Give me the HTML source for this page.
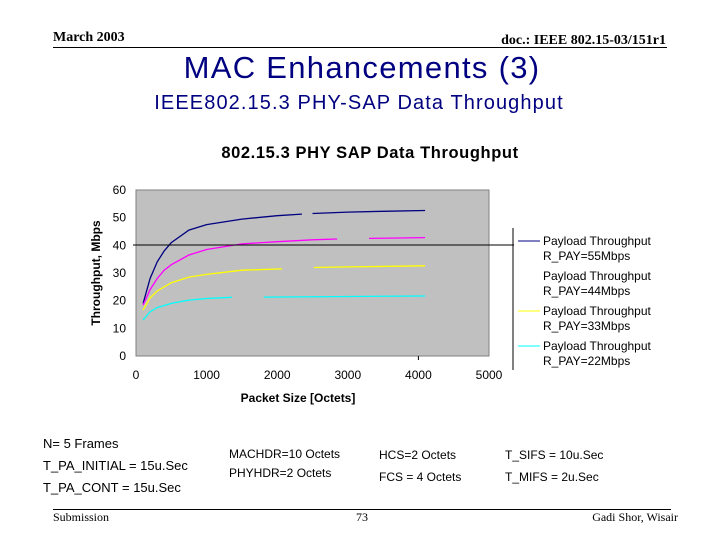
<!DOCTYPE html>
<html><head><meta charset="utf-8"><style>
body{margin:0;width:720px;height:540px;background:#fff;overflow:hidden;position:relative;font-family:"Liberation Sans",sans-serif}
.a{position:absolute;white-space:nowrap}
.ser{font-family:"Liberation Serif",serif}
</style></head><body>
<div class="a ser" style="left:53px;top:30px;font-size:14px;font-weight:bold">March 2003</div>
<div class="a ser" style="right:54px;top:33px;font-size:14px;font-weight:bold">doc.: IEEE 802.15-03/151r1</div>
<div class="a" style="left:53px;top:47px;width:614px;height:1px;background:#000"></div>
<div class="a" style="left:0;width:724px;text-align:center;top:50px;font-size:31px;letter-spacing:1.3px;color:#000080">MAC Enhancements (3)</div>
<div class="a" style="left:0;width:718px;text-align:center;top:92px;font-size:20px;letter-spacing:1.1px;color:#000080">IEEE802.15.3 PHY-SAP Data Throughput</div>
<svg class="a" style="left:0;top:0" width="720" height="540">
<text x="370" y="158" text-anchor="middle" font-size="16.5" font-weight="bold" letter-spacing="0.6" font-family="Liberation Sans">802.15.3 PHY SAP Data Throughput</text>
<rect x="136" y="190" width="353" height="166" fill="#c0c0c0" stroke="#808080"/>
<g id="axes" font-family="Liberation Sans" font-size="12"></g>
<g id="series"></g>
<line x1="133" y1="245" x2="514" y2="245" stroke="#000"/>
<line x1="513" y1="228" x2="513" y2="370" stroke="#000"/>
<text x="298" y="402" text-anchor="middle" font-size="12" font-weight="bold" font-family="Liberation Sans">Packet Size [Octets]</text>
<text transform="translate(100,273) rotate(-90)" text-anchor="middle" font-size="12" font-weight="bold" font-family="Liberation Sans">Throughput, Mbps</text>
<g id="legend" font-family="Liberation Sans" font-size="12"></g>
</svg>
<div class="a" style="left:43px;top:433px;font-size:13px;line-height:22px">N= 5 Frames<br>T_PA_INITIAL = 15u.Sec<br>T_PA_CONT = 15u.Sec</div>
<div class="a" style="left:229px;top:445px;font-size:12px;line-height:19px">MACHDR=10 Octets<br>PHYHDR=2 Octets</div>
<div class="a" style="left:379px;top:444px;font-size:12px;line-height:22px">HCS=2 Octets<br>FCS = 4 Octets</div>
<div class="a" style="left:505px;top:444px;font-size:12px;line-height:22px">T_SIFS = 10u.Sec<br>T_MIFS = 2u.Sec</div>
<div class="a" style="left:53px;top:509px;width:618px;height:1px;background:#000"></div>
<div class="a ser" style="left:53px;top:510px;font-size:12px">Submission</div>
<div class="a ser" style="left:356px;top:510px;font-size:12px">73</div>
<div class="a ser" style="right:42px;top:510px;font-size:12px">Gadi Shor, Wisair</div>
<script>
const xTicks=[0,1000,2000,3000,4000,5000];
const yTicks=[0,10,20,30,40,50,60];
const seriesNames=["Payload Throughput R_PAY=55Mbps","Payload Throughput R_PAY=44Mbps","Payload Throughput R_PAY=33Mbps","Payload Throughput R_PAY=22Mbps"];
const sizes55=[100,200,300,400,500,750,1000,1500,2000,2350,null,2500,3000,3500,4095];
const vals55=[19,28,34,38,41,45.5,47.5,49.5,50.7,51.3,null,51.5,52,52.3,52.6];
const sizes44=[100,200,300,400,500,750,1000,1500,2000,2500,2850,null,3300,4095];
const vals44=[18.4,24,28,31,33,36.5,38.5,40.5,41.3,42,42.3,null,42.5,42.8];
const sizes33=[100,200,300,500,750,1000,1500,2070,null,2520,3000,4095];
const vals33=[16.6,21,23.5,26.5,28.5,29.5,31,31.5,null,32,32.2,32.6];
const sizes22=[100,200,300,500,750,1000,1360,null,1810,3000,4095];
const vals22=[13,16,17.5,19,20.2,20.8,21.2,null,21.3,21.5,21.7];
const colors=["#000080","#ff00ff","#ffff00","#00ffff"];
const NS="http://www.w3.org/2000/svg";
const X=v=>136+v*353/5000, Y=v=>356-v*166/60;
const ax=document.getElementById('axes');
xTicks.forEach(t=>{const e=document.createElementNS(NS,'text');e.setAttribute('x',X(t));e.setAttribute('y',379);e.setAttribute('text-anchor','middle');e.textContent=t;

ax.appendChild(e);});
yTicks.forEach(t=>{const e=document.createElementNS(NS,'text');e.setAttribute('x',126);e.setAttribute('y',Y(t)+4);e.setAttribute('text-anchor','end');e.textContent=t;

ax.appendChild(e);});
const tk=document.createElementNS(NS,'line');tk.setAttribute('x1',X(4000));tk.setAttribute('x2',X(4000));tk.setAttribute('y1',356);tk.setAttribute('y2',360);tk.setAttribute('stroke','#000');

ax.appendChild(tk);
const sg=document.getElementById('series');
[[sizes55,vals55],[sizes44,vals44],[sizes33,vals33],[sizes22,vals22]].forEach(([xs,vs],i)=>{
 let d='',pen=false;
 xs.forEach((x,j)=>{if(x===null){pen=false;return;}d+=(pen?'L':'M')+X(x).toFixed(1)+' '+Y(vs[j]).toFixed(1)+' ';pen=true;});
 const p=document.createElementNS(NS,'path');p.setAttribute('d',d);p.setAttribute('fill','none');p.setAttribute('stroke',colors[i]);p.setAttribute('stroke-width',1.3);
 
 sg.appendChild(p);});
const lg=document.getElementById('legend');
seriesNames.forEach((n,i)=>{const y=245+i*35;
 if(i!==1){const l=document.createElementNS(NS,'line');l.setAttribute('x1',518);l.setAttribute('x2',540);l.setAttribute('y1',y-4);l.setAttribute('y2',y-4);l.setAttribute('stroke',colors[i]);
 
 lg.appendChild(l);}
 const parts=n.split(' R_');
 [parts[0],'R_'+parts[1]].forEach((s,k)=>{const t=document.createElementNS(NS,'text');t.setAttribute('x',543);t.setAttribute('y',y+k*15);t.textContent=s;
 
 lg.appendChild(t);});});
</script>
</body></html>
